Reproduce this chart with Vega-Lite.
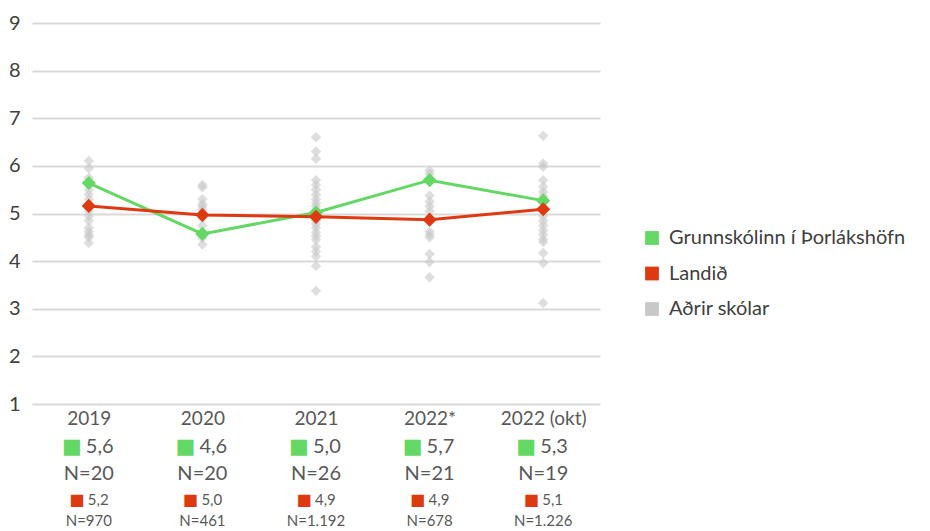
{
  "$schema": "https://vega.github.io/schema/vega-lite/v6.json",
  "width": 568,
  "height": 381,
  "autosize": {"type": "none"},
  "padding": {"left": 32, "top": 23, "right": 330, "bottom": 127},
  "background": "white",
  "config": {
    "font": "Lato",
    "view": {"stroke": null},
    "axis": {"labelFont": "Lato", "labelColor": "#595959", "labelFontWeight": 400}
  },
  "datasets": {
    "grey": [
      {"cat": "2019", "value": 6.1}, {"cat": "2019", "value": 5.95}, {"cat": "2019", "value": 5.75}, {"cat": "2019", "value": 5.5}, {"cat": "2019", "value": 5.4}, {"cat": "2019", "value": 5.3}, {"cat": "2019", "value": 5.2}, {"cat": "2019", "value": 5.05}, {"cat": "2019", "value": 4.95}, {"cat": "2019", "value": 4.85}, {"cat": "2019", "value": 4.7}, {"cat": "2019", "value": 4.62}, {"cat": "2019", "value": 4.55}, {"cat": "2019", "value": 4.5}, {"cat": "2019", "value": 4.38},
      {"cat": "2020", "value": 5.6}, {"cat": "2020", "value": 5.55}, {"cat": "2020", "value": 5.3}, {"cat": "2020", "value": 5.2}, {"cat": "2020", "value": 5.15}, {"cat": "2020", "value": 5.08}, {"cat": "2020", "value": 4.9}, {"cat": "2020", "value": 4.75}, {"cat": "2020", "value": 4.62}, {"cat": "2020", "value": 4.48}, {"cat": "2020", "value": 4.35},
      {"cat": "2021", "value": 6.6}, {"cat": "2021", "value": 6.3}, {"cat": "2021", "value": 6.15}, {"cat": "2021", "value": 5.7}, {"cat": "2021", "value": 5.6}, {"cat": "2021", "value": 5.5}, {"cat": "2021", "value": 5.4}, {"cat": "2021", "value": 5.3}, {"cat": "2021", "value": 5.22}, {"cat": "2021", "value": 5.15}, {"cat": "2021", "value": 5.08}, {"cat": "2021", "value": 4.95}, {"cat": "2021", "value": 4.85}, {"cat": "2021", "value": 4.78}, {"cat": "2021", "value": 4.7}, {"cat": "2021", "value": 4.6}, {"cat": "2021", "value": 4.52}, {"cat": "2021", "value": 4.45}, {"cat": "2021", "value": 4.3}, {"cat": "2021", "value": 4.2}, {"cat": "2021", "value": 4.1}, {"cat": "2021", "value": 3.9}, {"cat": "2021", "value": 3.38},
      {"cat": "2022*", "value": 5.9}, {"cat": "2022*", "value": 5.83}, {"cat": "2022*", "value": 5.38}, {"cat": "2022*", "value": 5.25}, {"cat": "2022*", "value": 5.15}, {"cat": "2022*", "value": 5.05}, {"cat": "2022*", "value": 4.62}, {"cat": "2022*", "value": 4.56}, {"cat": "2022*", "value": 4.5}, {"cat": "2022*", "value": 4.15}, {"cat": "2022*", "value": 3.98}, {"cat": "2022*", "value": 3.66},
      {"cat": "2022 (okt)", "value": 6.63}, {"cat": "2022 (okt)", "value": 6.05}, {"cat": "2022 (okt)", "value": 5.98}, {"cat": "2022 (okt)", "value": 5.7}, {"cat": "2022 (okt)", "value": 5.56}, {"cat": "2022 (okt)", "value": 5.45}, {"cat": "2022 (okt)", "value": 5.36}, {"cat": "2022 (okt)", "value": 4.95}, {"cat": "2022 (okt)", "value": 4.85}, {"cat": "2022 (okt)", "value": 4.75}, {"cat": "2022 (okt)", "value": 4.65}, {"cat": "2022 (okt)", "value": 4.56}, {"cat": "2022 (okt)", "value": 4.46}, {"cat": "2022 (okt)", "value": 4.4}, {"cat": "2022 (okt)", "value": 4.17}, {"cat": "2022 (okt)", "value": 3.96}, {"cat": "2022 (okt)", "value": 3.12}
    ],
    "main": [
      {"cat": "2019", "series": "Grunnskólinn í Þorlákshöfn", "value": 5.64},
      {"cat": "2020", "series": "Grunnskólinn í Þorlákshöfn", "value": 4.57},
      {"cat": "2021", "series": "Grunnskólinn í Þorlákshöfn", "value": 5.02},
      {"cat": "2022*", "series": "Grunnskólinn í Þorlákshöfn", "value": 5.7},
      {"cat": "2022 (okt)", "series": "Grunnskólinn í Þorlákshöfn", "value": 5.27},
      {"cat": "2019", "series": "Landið", "value": 5.16},
      {"cat": "2020", "series": "Landið", "value": 4.97},
      {"cat": "2021", "series": "Landið", "value": 4.93},
      {"cat": "2022*", "series": "Landið", "value": 4.87},
      {"cat": "2022 (okt)", "series": "Landið", "value": 5.09}
    ],
    "labels": [
      {"cat": "2019", "g": "5,6", "gn": "N=20", "r": "5,2", "rn": "N=970"},
      {"cat": "2020", "g": "4,6", "gn": "N=20", "r": "5,0", "rn": "N=461"},
      {"cat": "2021", "g": "5,0", "gn": "N=26", "r": "4,9", "rn": "N=1.192"},
      {"cat": "2022*", "g": "5,7", "gn": "N=21", "r": "4,9", "rn": "N=678"},
      {"cat": "2022 (okt)", "g": "5,3", "gn": "N=19", "r": "5,1", "rn": "N=1.226"}
    ]
  },
  "encoding": {
    "x": {
      "field": "cat", "type": "nominal",
      "sort": ["2019", "2020", "2021", "2022*", "2022 (okt)"],
      "scale": {"type": "point", "padding": 0.5},
      "axis": {"title": null, "domain": false, "ticks": false, "labelAngle": 0, "labelFontSize": 19, "labelPadding": 5, "grid": false}
    }
  },
  "layer": [
    {
      "data": {"name": "grey"},
      "mark": {"type": "point", "shape": "diamond", "filled": true, "size": 110, "opacity": 0.6},
      "encoding": {
        "y": {
          "field": "value", "type": "quantitative",
          "scale": {"domain": [1, 9]},
          "axis": {"title": null, "domain": false, "ticks": false, "values": [1, 2, 3, 4, 5, 6, 7, 8, 9], "labelFontSize": 20, "labelColor": "#404040", "labelPadding": 12, "gridColor": "#D9D9D9", "gridWidth": 2}
        },
        "color": {
          "datum": "Aðrir skólar", "type": "nominal",
          "scale": {"domain": ["Grunnskólinn í Þorlákshöfn", "Landið", "Aðrir skólar"], "range": ["#64D864", "#DE3A12", "#C8C8C8"]},
          "legend": {
            "title": null, "orient": "none", "legendX": 610, "legendY": 205,
            "symbolType": "square", "symbolSize": 190, "symbolOpacity": 1, "symbolStrokeWidth": 0,
            "labelFontSize": 20, "labelFontWeight": 400, "labelColor": "#404040", "labelFont": "Lato", "rowPadding": 15.5, "labelOffset": 7, "padding": 0, "labelLimit": 400
          }
        }
      }
    },
    {
      "data": {"name": "main"},
      "mark": {"type": "line", "strokeWidth": 3},
      "encoding": {
        "y": {"field": "value", "type": "quantitative"},
        "detail": {"field": "series"},
        "color": {"field": "series", "type": "nominal", "legend": null}
      }
    },
    {
      "data": {"name": "main"},
      "mark": {"type": "point", "shape": "diamond", "filled": true, "size": 200, "opacity": 1},
      "encoding": {
        "y": {"field": "value", "type": "quantitative"},
        "color": {"field": "series", "type": "nominal", "legend": null}
      }
    },
    {
      "data": {"name": "labels"},
      "mark": {"type": "text", "text": "■", "font": "DejaVu Sans", "fontSize": 21, "dx": -17, "color": "#64D864"},
      "encoding": {"y": {"datum": 0.097, "type": "quantitative"}}
    },
    {
      "data": {"name": "labels"},
      "mark": {"type": "text", "fontSize": 20, "fontWeight": 400, "align": "left", "dx": -3, "color": "#595959"},
      "encoding": {"y": {"datum": 0.097, "type": "quantitative"}, "text": {"field": "g"}}
    },
    {
      "data": {"name": "labels"},
      "mark": {"type": "text", "fontSize": 20, "fontWeight": 400, "color": "#595959"},
      "encoding": {"y": {"datum": -0.47, "type": "quantitative"}, "text": {"field": "gn"}}
    },
    {
      "data": {"name": "labels"},
      "mark": {"type": "text", "text": "■", "font": "DejaVu Sans", "fontSize": 16, "dx": -12, "color": "#DE3A12"},
      "encoding": {"y": {"datum": -1.016, "type": "quantitative"}}
    },
    {
      "data": {"name": "labels"},
      "mark": {"type": "text", "fontSize": 15, "fontWeight": 400, "align": "left", "dx": -1, "color": "#595959"},
      "encoding": {"y": {"datum": -1.016, "type": "quantitative"}, "text": {"field": "r"}}
    },
    {
      "data": {"name": "labels"},
      "mark": {"type": "text", "fontSize": 15, "fontWeight": 400, "color": "#595959"},
      "encoding": {"y": {"datum": -1.457, "type": "quantitative"}, "text": {"field": "rn"}}
    }
  ]
}
